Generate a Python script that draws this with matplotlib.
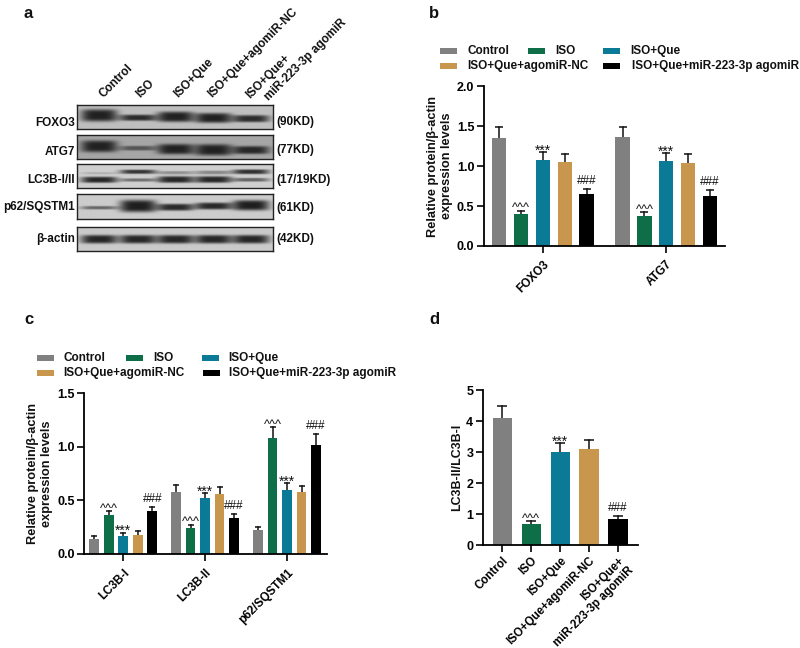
import numpy as np
import matplotlib
matplotlib.use('Agg')
import matplotlib.pyplot as plt
from matplotlib.patches import Rectangle

plt.rcParams['font.family'] = ['Liberation Sans', 'DejaVu Sans']
plt.rcParams['font.weight'] = 'bold'

W, H = 800, 648

groups = ['Control', 'ISO', 'ISO+Que', 'ISO+Que+agomiR-NC', 'ISO+Que+miR-223-3p agomiR']
colors = ['#808080', '#0e6e48', '#0b7a96', '#c8964c', '#000000']

# panel b
b_labels = ['FOXO3', 'ATG7']
b_means = [[1.35, 0.40, 1.08, 1.05, 0.65], [1.36, 0.38, 1.06, 1.04, 0.63]]
b_tops = [[1.49, 0.44, 1.18, 1.15, 0.71], [1.49, 0.42, 1.16, 1.15, 0.70]]
b_marks = [['', '^^^', '***', '', '###'], ['', '^^^', '***', '', '###']]

# panel c
c_labels = ['LC3B-I', 'LC3B-II', 'p62/SQSTM1']
c_means = [[0.14, 0.36, 0.17, 0.18, 0.40], [0.58, 0.24, 0.52, 0.56, 0.34], [0.22, 1.08, 0.60, 0.58, 1.02]]
c_tops = [[0.17, 0.40, 0.20, 0.21, 0.44], [0.64, 0.27, 0.57, 0.62, 0.37], [0.25, 1.18, 0.66, 0.63, 1.12]]
c_marks = [['', '^^^', '***', '', '###'], ['', '^^^', '***', '', '###'], ['', '^^^', '***', '', '###']]

# panel d
d_labels = ['Control', 'ISO', 'ISO+Que', 'ISO+Que+agomiR-NC', 'ISO+Que+\nmiR-223-3p agomiR']
d_means = [4.1, 0.67, 3.0, 3.1, 0.85]
d_tops = [4.5, 0.77, 3.3, 3.4, 0.95]
d_marks = ['', '^^^', '***', '', '###']

# panel a, blots: one row per band, lane values are darkness / centre / half height
blot_names = ['FOXO3', 'ATG7', 'LC3B-I/II', 'p62/SQSTM1', '\u03b2-actin']
blot_sizes = ['(90KD)', '(77KD)', '(17/19KD)', '(61KD)', '(42KD)']
blot_bg = [0.75, 0.65, 0.81, 0.80, 0.79]
blot_bands = [
    [([0.62, 0.58, 0.62, 0.62, 0.58], [0.43, 0.53, 0.49, 0.54, 0.57], [0.26, 0.13, 0.22, 0.21, 0.15])],
    [([0.52, 0.32, 0.52, 0.52, 0.50], [0.47, 0.55, 0.59, 0.62, 0.63], [0.25, 0.10, 0.22, 0.24, 0.17])],
    [([0.12, 0.60, 0.25, 0.28, 0.62], [0.38, 0.32, 0.36, 0.35, 0.32], [0.05, 0.09, 0.07, 0.08, 0.10]),
     ([0.66, 0.38, 0.66, 0.66, 0.42], [0.66, 0.67, 0.65, 0.65, 0.66], [0.13, 0.07, 0.14, 0.14, 0.08])],
    [([0.40, 0.68, 0.64, 0.64, 0.68], [0.55, 0.48, 0.53, 0.48, 0.45], [0.07, 0.25, 0.14, 0.14, 0.21])],
    [([0.64, 0.64, 0.64, 0.64, 0.64], [0.51, 0.51, 0.51, 0.51, 0.51], [0.18, 0.18, 0.18, 0.18, 0.18])],
]
lane_x = [0.112, 0.311, 0.503, 0.697, 0.889]


def add_axes(left, top, right, bottom):
    return fig.add_axes([left / W, 1 - bottom / H, (right - left) / W, (bottom - top) / H])


def fig_text(x, y, s, **kw):
    kw.setdefault('fontsize', 8.5)
    kw.setdefault('va', 'center')
    fig.text(x / W, 1 - y / H, s, **kw)


def legend_rows(patches, texts, ys):
    # patches and texts are laid out by hand like the original
    for (px, row), (tx, name), c in zip(patches, texts, colors):
        y = ys[row]
        fig.add_artist(Rectangle((px / W, 1 - (y + 3.3) / H), 17 / W, 6.6 / H,
                                 transform=fig.transFigure, color=c, lw=0))
        fig_text(tx, y, name, color='#111111')


def style_axis(ax, yticks, yfmt, ylabel, xcoord, labelsize=9.2, xpad=4):
    for s in ['top', 'right']:
        ax.spines[s].set_visible(False)
    for s in ['left', 'bottom']:
        ax.spines[s].set_linewidth(1.3)
    ax.set_yticks(yticks)
    ax.set_yticklabels([yfmt % t for t in yticks], fontsize=9)
    ax.tick_params(axis='both', width=1.2, length=5, pad=2)
    ax.tick_params(axis='x', pad=xpad)
    ax.set_ylabel(ylabel, fontsize=labelsize, fontweight='bold', va='center', ha='center',
                  linespacing=1.25, color='#111111')
    ax.yaxis.set_label_coords(xcoord, 0.5)


def draw_bars(ax, xs, means, tops, marks, width, cap):
    mark_style = {'^^^': (9.2, -2.5), '***': (10, -4), '###': (8.5, 1.5)}
    for x, m, t, mk, c in zip(xs, means, tops, marks, colors):
        ax.bar(x, m, width=width, color=c, lw=0, zorder=2)
        # only the upper half of the error bar is shown
        ax.plot([x, x], [m, t], color='#111111', lw=1.1, zorder=1)
        ax.plot([x], [t], marker='_', ms=2 * cap, mew=1.1, color='#111111', zorder=1)
        if mk:
            size, off = mark_style[mk]
            ax.annotate(mk, (x, t), xytext=(0, off), textcoords='offset points', ha='center',
                        va='bottom', fontsize=size, fontweight='normal', color='#111111')


fig = plt.figure(figsize=(W / 100, H / 100), dpi=100)

# a
blot_boxes = [(105, 129), (135, 159), (164, 188), (194, 219), (227, 251)]
name_ys = [123, 152, 180, 207, 239]
size_ys = [122, 150, 180, 208, 239]
xx, yy = np.meshgrid(np.linspace(0, 1, 300), np.linspace(0, 1, 50))
for (top, bot), bg, bands, name, size, ny, sy in zip(blot_boxes, blot_bg, blot_bands, blot_names,
                                                     blot_sizes, name_ys, size_ys):
    ax = add_axes(77, top, 273, bot)
    img = np.full_like(xx, bg)
    for dark, cy, th in bands:
        for lx, d, c, t in zip(lane_x, dark, cy, th):
            img -= d * np.exp(-((xx - lx) / 0.093) ** 4) * np.exp(-((yy - c) / t) ** 4)
    ax.imshow(np.clip(img, 0.1, 1), cmap='gray', vmin=0, vmax=1, aspect='auto', extent=[0, 1, 1, 0],
              interpolation='bilinear')
    ax.set_xticks([])
    ax.set_yticks([])
    for s in ax.spines.values():
        s.set_linewidth(1)
        s.set_color('#222222')
    fig_text(75, ny, name, ha='right', color='#111111')
    fig_text(276, sy, size, ha='left', color='#111111')

lane_names = [(103, 98, 'Control'), (140, 98, 'ISO'), (178, 98, 'ISO+Que'), (212, 98, 'ISO+Que+agomiR-NC'),
              (250, 99, 'ISO+Que+'), (269, 101, 'miR-223-3p agomiR')]
for x, y, s in lane_names:
    fig.text(x / W, 1 - y / H, s, rotation=45, rotation_mode='anchor', ha='left', va='baseline',
             fontsize=8.5, color='#111111')

# b
ax = add_axes(484, 86.3, 725, 246)
for g in range(len(b_labels)):
    xs = [g + (i - 2) * 0.177 for i in range(5)]
    draw_bars(ax, xs, b_means[g], b_tops[g], b_marks[g], 0.116, 2.6)
ax.set_xlim(-0.478, 1.476)
ax.set_ylim(0, 2)
style_axis(ax, [0, 0.5, 1.0, 1.5, 2.0], '%.1f', 'Relative protein/\u03b2-actin\nexpression levels', -0.183)
ax.set_xticks(range(len(b_labels)))
ax.set_xticklabels(b_labels, rotation=45, ha='right', rotation_mode='anchor', fontsize=8.5)

legend_rows([(440, 0), (528, 0), (603, 0), (440, 1), (603, 1)],
            [(467, groups[0]), (555, groups[1]), (630, groups[2]), (467, groups[3]), (632, groups[4])],
            [51, 66])

# c
ax = add_axes(84.3, 393, 327, 554)
for g in range(len(c_labels)):
    xs = [g + (i - 2) * 0.177 for i in range(5)]
    draw_bars(ax, xs, c_means[g], c_tops[g], c_marks[g], 0.118, 2.1)
ax.set_xlim(-0.476, 2.488)
ax.set_ylim(0, 1.5)
style_axis(ax, [0, 0.5, 1.0, 1.5], '%.1f', 'Relative protein/\u03b2-actin\nexpression levels', -0.183)
ax.set_xticks(range(len(c_labels)))
ax.set_xticklabels(c_labels, rotation=45, ha='right', rotation_mode='anchor', fontsize=8.5)

legend_rows([(37, 0), (126, 0), (202, 0), (37, 1), (203, 1)],
            [(63, groups[0]), (153, groups[1]), (228, groups[2]), (63, groups[3]), (229, groups[4])],
            [358, 373])

# d
ax = add_axes(483, 390.3, 638, 545)
draw_bars(ax, range(5), d_means, d_tops, d_marks, 0.667, 3.6)
ax.set_xlim(-0.667, 4.69)
ax.set_ylim(0, 5)
style_axis(ax, [0, 1, 2, 3, 4, 5], '%d', 'LC3B-II/LC3B-I', -0.168, labelsize=8.9, xpad=2)
ax.set_xticks(range(5))
ax.set_xticklabels(d_labels, rotation=45, ha='right', rotation_mode='anchor', fontsize=8.3,
                   multialignment='right')

for x, y, s in [(24, 14, 'a'), (429, 14, 'b'), (24, 320, 'c'), (429, 319, 'd')]:
    fig_text(x, y, s, fontsize=12, ha='left', color='#111111')

fig.savefig('out.png', dpi=100)
